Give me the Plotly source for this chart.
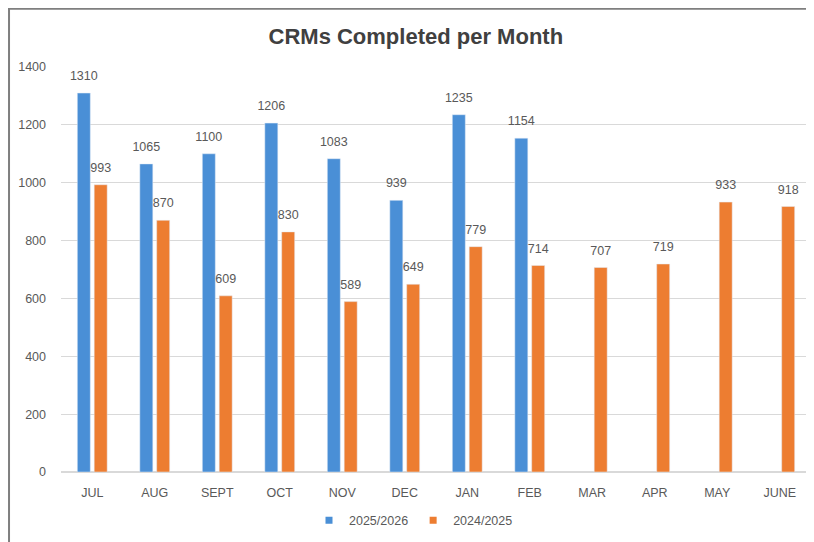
import plotly.graph_objects as go

months = ["JUL", "AUG", "SEPT", "OCT", "NOV", "DEC", "JAN", "FEB", "MAR", "APR", "MAY", "JUNE"]
s2025_2026 = [1310, 1065, 1100, 1206, 1083, 939, 1235, 1154, None, None, None, None]
s2024_2025 = [993, 870, 609, 830, 589, 649, 779, 714, 707, 719, 933, 918]
y_ticks = [0, 200, 400, 600, 800, 1000, 1200, 1400]

BLUE = "#4a8fd6"
ORANGE = "#ed7d31"
TXT = "#595959"
FONT = "Liberation Sans, Arial, sans-serif"

def labels(vals):
    return ["" if v is None else str(v) for v in vals]

series = [("2025/2026", s2025_2026, BLUE, "g1"), ("2024/2025", s2024_2025, ORANGE, "g2")]

fig = go.Figure()
for name, vals, col, grp in series:
    fig.add_trace(go.Bar(
        x=months, y=vals, name=name, marker_color=col, showlegend=False,
        offsetgroup=grp, alignmentgroup="bars",
    ))
# data labels, grouped the same way as the bars
for name, vals, col, grp in series:
    fig.add_trace(go.Scatter(
        x=months, y=vals, mode="markers+text", text=labels(vals),
        textposition="top center", textfont=dict(size=12.5, color=TXT, family=FONT),
        marker=dict(size=14, color="rgba(0,0,0,0)"), hoverinfo="skip",
        showlegend=False, cliponaxis=False,
        offsetgroup=grp, alignmentgroup="labels",
    ))
# legend entries with small square keys
for name, vals, col, grp in series:
    fig.add_trace(go.Scatter(x=[None], y=[None], mode="markers", name=name,
                             marker=dict(symbol="square", size=7, color=col),
                             offsetgroup=grp, alignmentgroup="labels"))

fig.update_layout(
    width=814, height=542,
    margin=dict(l=53, r=11, t=59, b=78),
    paper_bgcolor="white", plot_bgcolor="white",
    font=dict(family=FONT, color=TXT, size=12),
    title=dict(text="<b>CRMs Completed per Month</b>", x=0.501, xanchor="center",
               y=0.948, yanchor="middle",
               font=dict(size=22, color="#404040", family=FONT)),
    barmode="group", bargap=0.46, bargroupgap=0.23,
    scattermode="group", scattergap=0.46,
    showlegend=True,
    legend=dict(orientation="h", x=0.47, xanchor="center", y=-0.12, yanchor="middle",
                font=dict(size=12.5, color=TXT), itemwidth=30, traceorder="normal"),
    xaxis=dict(showgrid=False, showline=False, ticks="", tickfont=dict(size=12.5, color=TXT),
               ticklabelstandoff=11),
    yaxis=dict(range=[0, 1400], tickvals=y_ticks, showgrid=True, gridcolor="#d9d9d9",
               gridwidth=1, zeroline=True, zerolinecolor="#d9d9d9", showline=False,
               ticks="", tickfont=dict(size=12.5, color=TXT), ticklabelstandoff=14),
)

fig.add_shape(type="rect", xref="paper", yref="paper",
              x0=-0.0693, x1=1.03, y0=-0.25, y1=1.144,
              line=dict(color="#7f7f7f", width=2), fillcolor="rgba(0,0,0,0)", layer="above")

fig.write_html("out.html")
